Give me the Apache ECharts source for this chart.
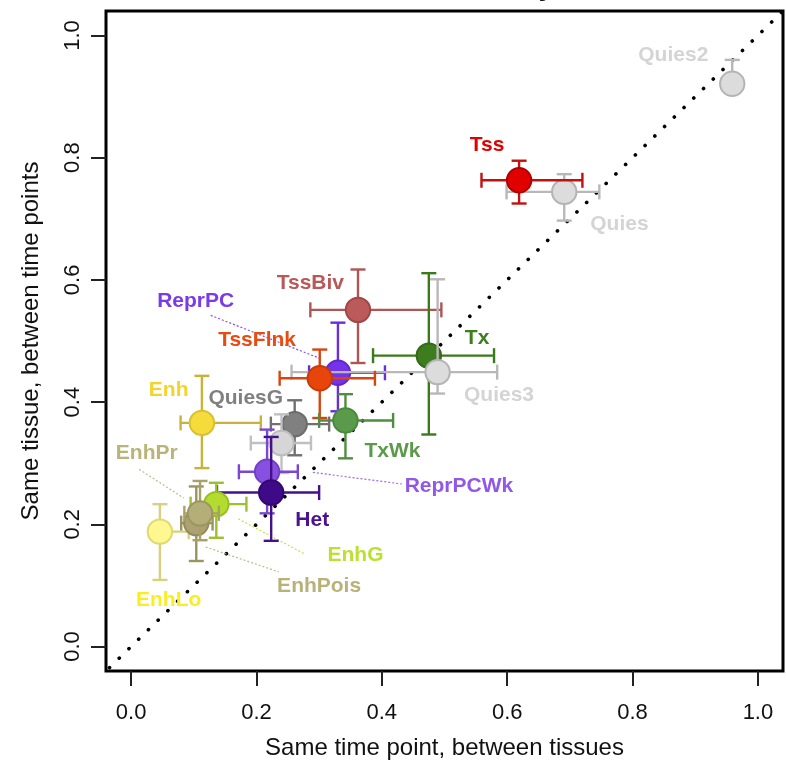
<!DOCTYPE html>
<html>
<head>
<meta charset="utf-8">
<script src="https://cdn.jsdelivr.net/npm/echarts@6/dist/echarts.min.js"></script>
<style>html,body{margin:0;padding:0;background:#fff}#c{width:786px;height:767px}</style>
</head>
<body>
<div id="c"></div>
<script>
// ---- data ----
const names   = ['Quies2','Quies','Tss','TssBiv','Tx','ReprPC','Quies3','TssFlnk','TxWk','Enh','QuiesG','','ReprPCWk','Het','EnhLo','EnhG','EnhPois','EnhPr'];
const xMid    = [0.959, 0.691, 0.619, 0.362, 0.475, 0.330, 0.489, 0.301, 0.342, 0.113, 0.261, 0.240, 0.217, 0.2235, 0.046, 0.136, 0.104, 0.110];
const xLo     = [0.955, 0.599, 0.559, 0.286, 0.386, 0.284, 0.256, 0.237, 0.300, 0.079, 0.223, 0.191, 0.172, 0.137, 0.030, 0.095, 0.080, 0.085];
const xHi     = [0.963, 0.747, 0.720, 0.495, 0.579, 0.405, 0.584, 0.389, 0.418, 0.207, 0.316, 0.287, 0.266, 0.300, 0.092, 0.184, 0.130, 0.140];
const yMid    = [0.921, 0.744, 0.763, 0.551, 0.476, 0.448, 0.449, 0.439, 0.370, 0.366, 0.364, 0.333, 0.286, 0.252, 0.188, 0.233, 0.202, 0.218];
const yLo     = [0.905, 0.697, 0.725, 0.464, 0.347, 0.385, 0.414, 0.374, 0.308, 0.292, 0.313, 0.284, 0.218, 0.173, 0.109, 0.178, 0.140, 0.174];
const yHi     = [0.960, 0.773, 0.795, 0.617, 0.611, 0.530, 0.601, 0.486, 0.413, 0.443, 0.403, 0.380, 0.355, 0.343, 0.233, 0.268, 0.262, 0.271];
// label anchor points (data coordinates, as placed in the original plot)
const labelX  = [0.865, 0.779, 0.568, 0.286, 0.552, 0.103, 0.587, 0.201, 0.417, 0.060, 0.183, null, 0.523, 0.289, 0.060, 0.358, 0.300, 0.025];
const labelY  = [0.967, 0.691, 0.821, 0.595, 0.504, 0.565, 0.412, 0.502, 0.319, 0.419, 0.407, null, 0.262, 0.207, 0.076, 0.150, 0.099, 0.316];
// leader segments [state, x1, y1, x2, y2]
const leaders = [
  ['ReprPC',   0.127, 0.542, 0.300, 0.472],
  ['ReprPCWk', 0.290, 0.285, 0.432, 0.266],
  ['EnhPr',    0.013, 0.290, 0.084, 0.243],
  ['EnhG',     0.171, 0.209, 0.278, 0.151],
  ['EnhPois',  0.119, 0.163, 0.236, 0.122]
];
const ticks = [0, 0.2, 0.4, 0.6, 0.8, 1.0];
const diag  = [[-0.05, -0.05], [1.05, 1.05]];
const titleText = 'State stability';

// ---- styles ----
const fillCol  = ['#dcdcdc','#dcdcdc','#e00000','#bc5a5a','#3d7d1d','#7433e8','#dcdcdc','#e8450c','#5a9a4a','#f5dc3a','#808080','#d6d6d6','#8850e0','#3f0a88','#fff890','#b4dc30','#aaa270','#b4ae78'];
const barCol   = ['#b8b8b8','#b8b8b8','#c01010','#b05454','#3a7a1a','#6a2ed8','#b8b8b8','#d84410','#4f8e40','#c9b23a','#707070','#c0c0c0','#7a48d0','#44118a','#d8d080','#9cc030','#9a9460','#a8a068'];
const edgeCol  = ['#b4b4b4','#b4b4b4','#b00000','#a04848','#346a18','#6028c8','#b4b4b4','#c83a08','#4a8a3c','#d8c030','#6c6c6c','#bcbcbc','#7040c8','#320870','#e0d870','#98c020','#948c5c','#9c9664'];
const labelCol = ['#d4d4d4','#d4d4d4','#e00000','#b85858','#3e7e1e','#7a3ae8','#d4d4d4','#e84a10','#5a9a4a','#f2d42a','#808080','#d6d6d6','#9058e8','#4a1290','#f8ee20','#bce030','#b8b278','#b8b47a'];

const FONT = '"Liberation Sans", Arial, Helvetica, sans-serif';

function renderPoint(params, api) {
  const i = params.dataIndex;
  const c  = api.coord([api.value(0), api.value(1)]);
  const xl = api.coord([api.value(2), api.value(1)]);
  const xh = api.coord([api.value(3), api.value(1)]);
  const yl = api.coord([api.value(0), api.value(4)]);
  const yh = api.coord([api.value(0), api.value(5)]);
  const cap = 7.5;
  const ls = {stroke: barCol[i], lineWidth: 2.4};
  const seg = (x1,y1,x2,y2) => ({type:'line', shape:{x1,y1,x2,y2}, style:ls});
  return {
    type: 'group',
    children: [
      seg(xl[0], c[1], xh[0], c[1]),
      seg(xl[0], c[1]-cap, xl[0], c[1]+cap),
      seg(xh[0], c[1]-cap, xh[0], c[1]+cap),
      seg(c[0], yl[1], c[0], yh[1]),
      seg(c[0]-cap, yl[1], c[0]+cap, yl[1]),
      seg(c[0]-cap, yh[1], c[0]+cap, yh[1]),
      {type:'circle', shape:{cx:c[0], cy:c[1], r:12.2}, style:{fill:fillCol[i], stroke:edgeCol[i], lineWidth:2}}
    ]
  };
}

const pointData = names.map((n, i) => [xMid[i], yMid[i], xLo[i], xHi[i], yLo[i], yHi[i]]);
const labelData = [];
names.forEach((n, i) => {
  if (labelX[i] !== null && n) {
    labelData.push({value: [labelX[i], labelY[i]], name: n, label: {color: labelCol[i]}});
  }
});
const leaderData = leaders.map(l => {
  const i = names.indexOf(l[0]);
  return {coords: [[l[1], l[2]], [l[3], l[4]]], lineStyle: {color: labelCol[i]}};
});

const axisCommon = {
  type: 'value', min: -0.04, max: 1.04,
  splitLine: {show: false},
  axisLine: {show: false, onZero: false},
  axisTick: {show: true, customValues: ticks, length: 15, lineStyle: {color: '#222', width: 2}},
  nameLocation: 'middle',
  nameTextStyle: {fontFamily: FONT, fontSize: 24, color: '#111'}
};

const chart = echarts.init(document.getElementById('c'), null, {renderer: 'canvas'});
chart.setOption({
  animation: false,
  backgroundColor: '#fff',
  title: {
    text: titleText, left: 372, top: -27, padding: 0,
    textStyle: {fontFamily: FONT, fontSize: 28, fontWeight: 'bold', color: '#111'}
  },
  grid: {left: 106, right: 3, top: 11, bottom: 96, show: true, borderColor: '#000', borderWidth: 3, backgroundColor: '#fff'},
  xAxis: Object.assign({}, axisCommon, {
    name: 'Same time point, between tissues', nameGap: 65,
    axisLabel: {customValues: ticks, formatter: v => v.toFixed(1), fontFamily: FONT, fontSize: 22, color: '#111', margin: 31}
  }),
  yAxis: Object.assign({}, axisCommon, {
    name: 'Same tissue, between time points', nameGap: 63, nameRotate: 90,
    axisLabel: {customValues: ticks, formatter: v => v.toFixed(1), rotate: 90, fontFamily: FONT, fontSize: 22, color: '#111', margin: 22}
  }),
  series: [
    {
      type: 'line', data: diag, symbol: 'none', z: 1, silent: true,
      lineStyle: {color: '#000', width: 3.6, type: [0.1, 13.5], cap: 'round'}
    },
    {
      type: 'lines', coordinateSystem: 'cartesian2d', z: 2, silent: true,
      lineStyle: {width: 1.2, type: [2, 2], opacity: 0.9},
      data: leaderData
    },
    {
      type: 'custom', z: 3, renderItem: renderPoint,
      encode: {x: [0, 2, 3], y: [1, 4, 5]},
      data: pointData
    },
    {
      type: 'scatter', z: 4, symbolSize: 0, silent: true,
      itemStyle: {opacity: 1},
      label: {show: true, position: 'inside', formatter: p => p.name, fontFamily: FONT, fontSize: 21, fontWeight: 'bold', opacity: 1},
      data: labelData
    }
  ]
});
</script>
</body>
</html>
